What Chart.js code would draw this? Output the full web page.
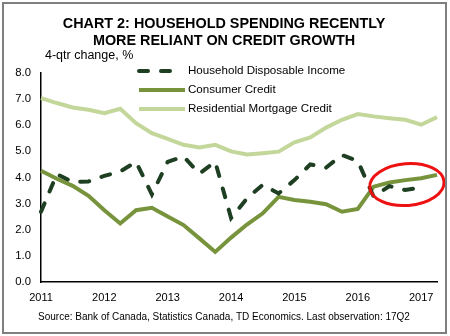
<!DOCTYPE html>
<html>
<head>
<meta charset="utf-8">
<script src="https://cdn.jsdelivr.net/npm/chart.js@4.4.1/dist/chart.umd.min.js"></script>
<style>
  html, body { margin: 0; padding: 0; background: #fff; }
  canvas { display: block; }
</style>
</head>
<body>
<canvas id="grafico" width="450" height="336"></canvas>
<script>
// quarters 2011Q1 .. 2017Q2
const quarters = ['2011Q1', '2011Q2', '2011Q3', '2011Q4', '2012Q1', '2012Q2', '2012Q3', '2012Q4',
  '2013Q1', '2013Q2', '2013Q3', '2013Q4', '2014Q1', '2014Q2', '2014Q3', '2014Q4',
  '2015Q1', '2015Q2', '2015Q3', '2015Q4', '2016Q1', '2016Q2', '2016Q3', '2016Q4',
  '2017Q1', '2017Q2'];

const disposableIncome = [2.69, 4.13, 3.83, 3.85, 4.06, 4.23, 4.60, 3.35, 4.60, 4.80, 4.15, 4.60,
  2.45, 3.20, 3.72, 3.39, 3.90, 4.50, 4.38, 4.86, 4.63, 3.27, 3.67, 3.52, 3.62, null];
const consumerCredit = [4.26, 3.95, 3.68, 3.30, 2.75, 2.24, 2.75, 2.84, 2.51, 2.18, 1.67, 1.15,
  1.70, 2.20, 2.63, 3.26, 3.14, 3.07, 2.98, 2.69, 2.80, 3.65, 3.81, 3.90, 3.97, 4.10];
const mortgageCredit = [7.04, 6.85, 6.68, 6.59, 6.46, 6.63, 6.08, 5.70, 5.48, 5.25, 5.15, 5.25,
  5.00, 4.88, 4.93, 4.99, 5.35, 5.53, 5.91, 6.21, 6.43, 6.34, 6.27, 6.21, 6.02, 6.31];

const seriesNames = ['Household Disposable Income', 'Consumer Credit', 'Residential Mortgage Credit'];
const yTicks = [0, 1, 2, 3, 4, 5, 6, 7, 8];

// red circle around the latest quarters (in data units)
const highlight = { x: 23.1, y: 3.73, rx: 2.35, ry: 0.8 };

const FONT = '"Liberation Sans", Arial, sans-serif';

// titles, legend, red circle and frame
const decorations = {
  id: 'decorations',
  afterDraw(chart) {
    const ctx = chart.ctx;
    const xs = chart.scales.x, ys = chart.scales.y;
    ctx.save();

    // red ellipse
    ctx.beginPath();
    ctx.ellipse(xs.getPixelForValue(highlight.x), ys.getPixelForValue(highlight.y),
      Math.abs(xs.getPixelForValue(highlight.rx) - xs.getPixelForValue(0)),
      Math.abs(ys.getPixelForValue(highlight.ry) - ys.getPixelForValue(0)),
      -0.08, 0, Math.PI * 2);
    ctx.strokeStyle = '#ee1111';
    ctx.lineWidth = 3;
    ctx.stroke();

    // title
    ctx.fillStyle = '#000';
    ctx.textAlign = 'center';
    ctx.textBaseline = 'middle';
    ctx.font = 'bold 14.4px ' + FONT;
    ctx.fillText('CHART 2: HOUSEHOLD SPENDING RECENTLY', 224, 24);
    ctx.fillText('MORE RELIANT ON CREDIT GROWTH', 224, 41);

    // source
    ctx.font = '10px ' + FONT;
    ctx.fillText('Source: Bank of Canada, Statistics Canada, TD Economics. Last observation: 17Q2', 224, 317);

    // y axis title
    ctx.textAlign = 'left';
    ctx.font = '12.5px ' + FONT;
    ctx.fillText('4-qtr change, %', 45, 56);

    // legend
    ctx.font = '11.6px ' + FONT;
    chart.data.datasets.forEach((ds, i) => {
      const y = 71 + i * 19;
      ctx.beginPath();
      ctx.strokeStyle = ds.borderColor;
      ctx.lineWidth = ds.borderWidth;
      ctx.lineCap = ds.borderDash ? 'round' : 'butt';
      ctx.setLineDash(ds.borderDash || []);
      ctx.moveTo(139, y);
      ctx.lineTo(ds.borderDash ? 172 : 185, y);
      ctx.stroke();
      ctx.setLineDash([]);
      ctx.fillStyle = '#000';
      ctx.fillText(ds.label, 188, y);
    });

    // outer frame
    ctx.strokeStyle = '#7f7f7f';
    ctx.lineWidth = 2;
    ctx.strokeRect(3, 3, 443, 330);
    ctx.restore();
  }
};

new Chart(document.getElementById('grafico').getContext('2d'), {
  type: 'line',
  data: {
    labels: quarters,
    datasets: [
      {
        label: seriesNames[0],
        data: disposableIncome,
        borderColor: '#1e3f22',
        borderWidth: 4,
        borderDash: [9, 13],
        borderCapStyle: 'round',
        pointRadius: 0,
        tension: 0,
        order: 1
      },
      {
        label: seriesNames[1],
        data: consumerCredit,
        borderColor: '#77933c',
        borderWidth: 4,
        pointRadius: 0,
        tension: 0,
        order: 2
      },
      {
        label: seriesNames[2],
        data: mortgageCredit,
        borderColor: '#c4d79b',
        borderWidth: 4,
        pointRadius: 0,
        tension: 0,
        order: 3
      }
    ]
  },
  options: {
    responsive: false,
    animation: false,
    devicePixelRatio: 1,
    layout: { padding: { top: 73, right: 13, left: 0, bottom: 0 } },
    plugins: { legend: { display: false }, tooltip: { enabled: false } },
    scales: {
      x: {
        offset: false,
        grid: { display: false, drawTicks: false },
        border: { color: '#000', width: 1.5 },
        afterFit: scale => { scale.height = 54; },
        ticks: {
          autoSkip: false,
          maxRotation: 0,
          padding: 9,
          color: '#000',
          font: { family: FONT, size: 11 },
          callback: function(value) {
            const q = quarters[value];
            return q.endsWith('Q1') ? q.slice(0, 4) : '';
          }
        }
      },
      y: {
        min: 0,
        max: 8,
        grid: { display: false, drawTicks: false },
        border: { color: '#000', width: 1.5 },
        afterFit: scale => { scale.width = 41; },
        afterBuildTicks: scale => { scale.ticks = yTicks.map(v => ({ value: v })); },
        ticks: {
          padding: 10,
          color: '#000',
          font: { family: FONT, size: 11.3 },
          callback: v => v.toFixed(1)
        }
      }
    }
  },
  plugins: [decorations]
});
</script>
</body>
</html>
